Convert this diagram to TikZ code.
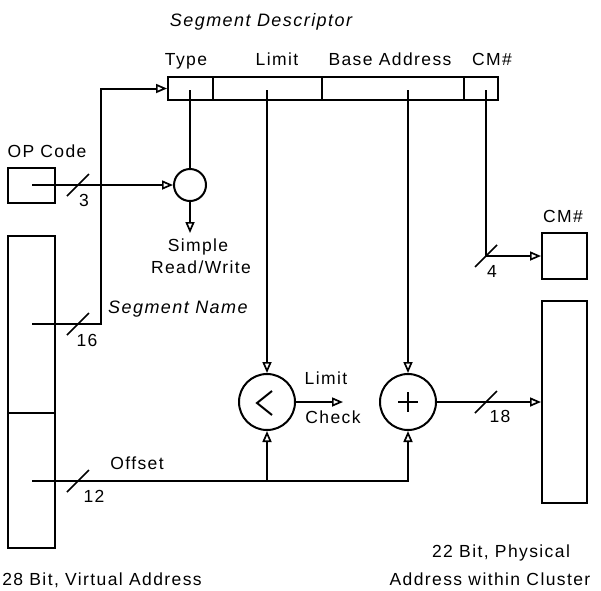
\documentclass[tikz,border=0pt]{standalone}
\usepackage{fontspec}
\setmainfont{Liberation Sans}[LetterSpace=8]
\usetikzlibrary{arrows.meta}
\begin{document}
\begin{tikzpicture}[x=1pt,y=-1pt,
  wire/.style={line width=2pt},
  arr/.style={wire,-{Triangle[open,length=11pt,width=9pt,line width=1.7pt]}},
  box/.style={draw,line width=2pt,inner sep=0pt,rectangle},
  lbl/.style={font=\fontsize{17.5}{20}\selectfont,inner sep=0pt,anchor=base},
  ttl/.style={font=\fontsize{18}{20}\selectfont\itshape,inner sep=0pt,anchor=base},
  opc/.style={draw,circle,line width=2pt,inner sep=0pt},
  buswidth/.pic={\draw[line width=1.7pt] (-11,11) -- (11,-11);}]
\useasboundingbox (0,0) rectangle (601,590);
% descriptor fields
\node[box,minimum width=45pt,minimum height=23pt] (ftype) at (190.5,88.5) {};
\node[box,minimum width=109pt,minimum height=23pt] (flimit) at (267.5,88.5) {};
\node[box,minimum width=142pt,minimum height=23pt] (fbase) at (393,88.5) {};
\node[box,minimum width=34pt,minimum height=23pt] (fcm) at (481,88.5) {};
% boxes
\node[box,minimum width=47pt,minimum height=35pt] (opbox) at (31.5,185.5) {};
\node[box,minimum width=47pt,minimum height=312pt] (vbox) at (31.5,392) {};
\node[box,minimum width=45pt,minimum height=46pt] (cmbox) at (564.5,256) {};
\node[box,minimum width=45pt,minimum height=202pt] (phys) at (564.5,402) {};
% operators
\node[opc,minimum size=32pt] (sc) at (190,185) {};
\node[opc,minimum size=56pt] (lt) at (267,402) {};
\node[opc,minimum size=56pt] (add) at (408,402) {};
% coordinates
\coordinate (vdiv) at (0,413);
\coordinate (tIn) at (190,90);
\coordinate (lIn) at (267,90);
\coordinate (bIn) at (408,90);
\coordinate (cIn) at (486,90);
\coordinate (op0) at (32,185);
\coordinate (sn0) at (32,324);
\coordinate (snc) at (101,324);
\coordinate (of0) at (32,481);
\coordinate (ofj) at (267,481);
\coordinate (rw) at (190,233);
\coordinate (lc) at (343,402);
% divider in virtual address
\draw[wire] (vbox.west |- vdiv) -- (vbox.east |- vdiv);
% connectors
\draw[arr] (sn0) -- (snc) |- (ftype.west);
\draw[arr] (op0) -- (sc.west);
\draw[wire] (tIn) -- (sc.north);
\draw[arr] (sc.south) -- (rw);
\draw[arr] (lIn) -- (lt.north);
\draw[arr] (bIn) -- (add.north);
\draw[arr] (cIn) |- (cmbox.west);
\draw[arr] (of0) -| (add.south);
\draw[arr] (ofj) -- (lt.south);
\draw[arr] (lt.east) -- (lc);
\draw[arr] (add.east) -- (phys.west);
% operator symbols
\draw[wire] (272,391) -- (257,403) -- (272,415);
\draw[wire] (398,402) -- (418,402) (408,392) -- (408,412);
% bus width marks
\pic at (78,185) {buswidth};
\pic at (78,324) {buswidth};
\pic at (78,481) {buswidth};
\pic at (486,256) {buswidth};
\pic at (486,402) {buswidth};
% labels
\node[ttl] (tdesc) at (261,26) {Segment Descriptor};
\node[lbl] (ltype) at (186,65) {Type};
\node[lbl] (llimit) at (277,65) {Limit};
\node[lbl] (lbase) at (390,65) {Base Address};
\node[lbl] (lcm) at (492,65) {CM\#};
\node[lbl] (lop) at (47,157) {OP Code};
\node[lbl] (lsimple) at (198,251) {Simple};
\node[lbl] (lrw) at (201,273) {Read/Write};
\node[lbl] (lcm2) at (563,222) {CM\#};
\node[ttl,anchor=base west] (lsn) at (108,313) {Segment Name};
\node[lbl] (n3) at (84,206) {3};
\node[lbl] (n16) at (87,346) {16};
\node[lbl] (n4) at (492,277) {4};
\node[lbl] (n18) at (500,422) {18};
\node[lbl] (n12) at (94,502) {12};
\node[lbl] (llim) at (326,384) {Limit};
\node[lbl] (lchk) at (333,423) {Check};
\node[lbl] (loff) at (137,469) {Offset};
\node[lbl] (lphys1) at (501,557) {22 Bit, Physical};
\node[lbl] (lphys2) at (490,585) {Address within Cluster};
\node[lbl] (lvirt) at (102,585) {28 Bit, Virtual Address};
\end{tikzpicture}
\end{document}
